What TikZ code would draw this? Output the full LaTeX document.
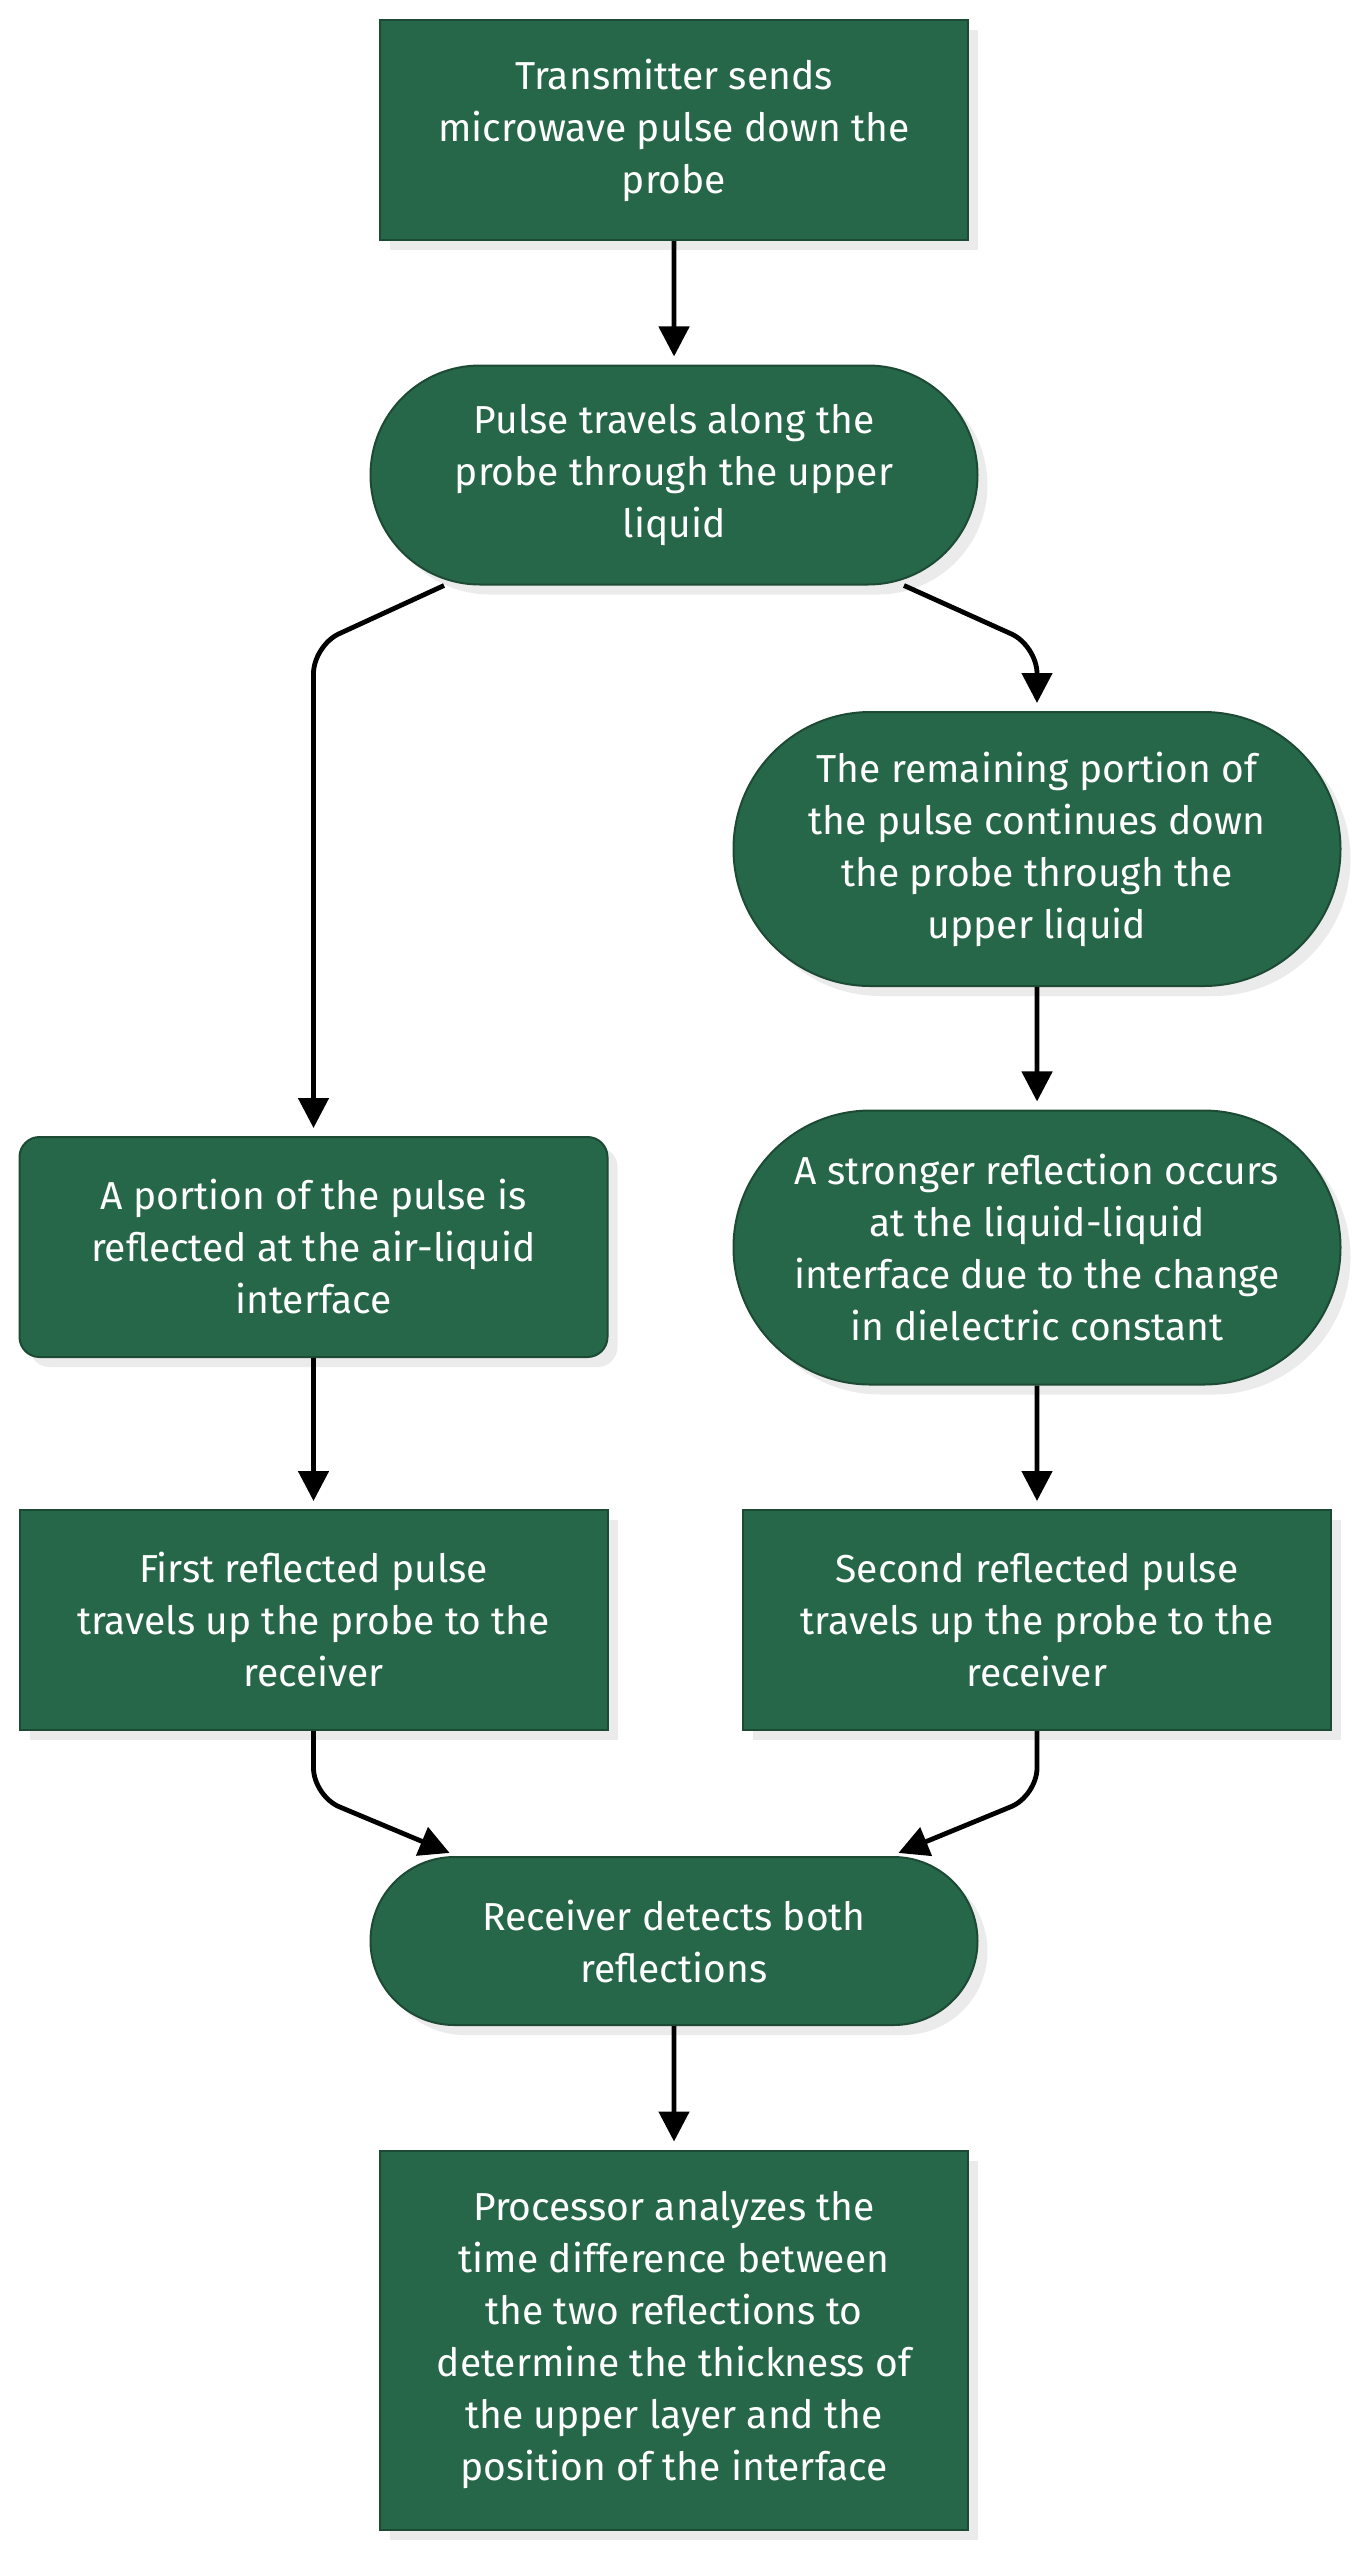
\documentclass[tikz,border=0pt]{standalone}
\usepackage{fontspec}
\setmainfont{Fira Sans}
\usetikzlibrary{arrows.meta,calc,shapes.misc,shadows}
\definecolor{boxgreen}{HTML}{276749}
\definecolor{boxedge}{HTML}{1C4A35}
\definecolor{shade}{HTML}{EBEBEB}

\begin{document}
\begin{tikzpicture}[x=0.5pt, y=-0.5pt,
	box/.style={draw=boxedge, line width=1pt, fill=boxgreen, text=white, align=center, inner sep=0pt,
		font=\fontsize{19.5}{26}\selectfont,
		drop shadow={shadow xshift=5pt, shadow yshift=-5pt, fill=shade, opacity=1}},
	sharp/.style={box, rectangle, minimum width=294pt, minimum height=110pt},
	soft/.style={box, rectangle, rounded corners=10pt, minimum width=294pt, minimum height=110pt},
	pill/.style={box, rounded rectangle, minimum width=303.5pt},
	flow/.style={line width=2.4pt, rounded corners=14pt, shorten >=4pt, -{Triangle[length=15pt, width=15pt]}}]
	\useasboundingbox (0, 0) rectangle (1365, 2560);
	\node[sharp] (transmit) at (674, 130) {Transmitter sends\\microwave pulse down the\\probe};
	\node[pill, minimum height=109.5pt] (travel) at (674, 475) {Pulse travels along the\\probe through the upper\\liquid};
	\node[pill, minimum height=137pt] (remain) at (1037, 849) {The remaining portion of\\the pulse continues down\\the probe through the\\upper liquid};
	\node[soft] (portion) at (313.5, 1247) {A portion of the pulse is\\reflected at the air-liquid\\interface};
	\node[pill, minimum height=137pt] (stronger) at (1037, 1247.5) {A stronger reflection occurs\\at the liquid-liquid\\interface due to the change\\in dielectric constant};
	\node[sharp] (first) at (313.5, 1620) {First reflected pulse\\travels up the probe to the\\receiver};
	\node[sharp] (second) at (1037, 1620) {Second reflected pulse\\travels up the probe to the\\receiver};
	\node[pill, minimum height=84pt] (receiver) at (674, 1941) {Receiver detects both\\reflections};
	\node[sharp, minimum height=189.5pt] (processor) at (674, 2340) {Processor analyzes the\\time difference between\\the two reflections to\\determine the thickness of\\the upper layer and the\\position of the interface};
	\draw[flow] (transmit) -- (travel);
	\draw[flow] ($(travel.south)+(-230, 0)$) -- ($(portion.north |- travel.south)+(0, 60)$) -- (portion.north);
	\draw[flow] ($(travel.south)+(230, 0)$) -- ($(remain.north |- travel.south)+(0, 60)$) -- (remain.north);
	\draw[flow] (remain) -- (stronger);
	\draw[flow] (portion) -- (first);
	\draw[flow] (stronger) -- (second);
	\draw[flow] (first.south) -- ($(first.south)+(0, 65)$) -- ($(receiver.north)+(-217, 0)$);
	\draw[flow] (second.south) -- ($(second.south)+(0, 65)$) -- ($(receiver.north)+(217, 0)$);
	\draw[flow] (receiver) -- (processor);
\end{tikzpicture}
\end{document}
